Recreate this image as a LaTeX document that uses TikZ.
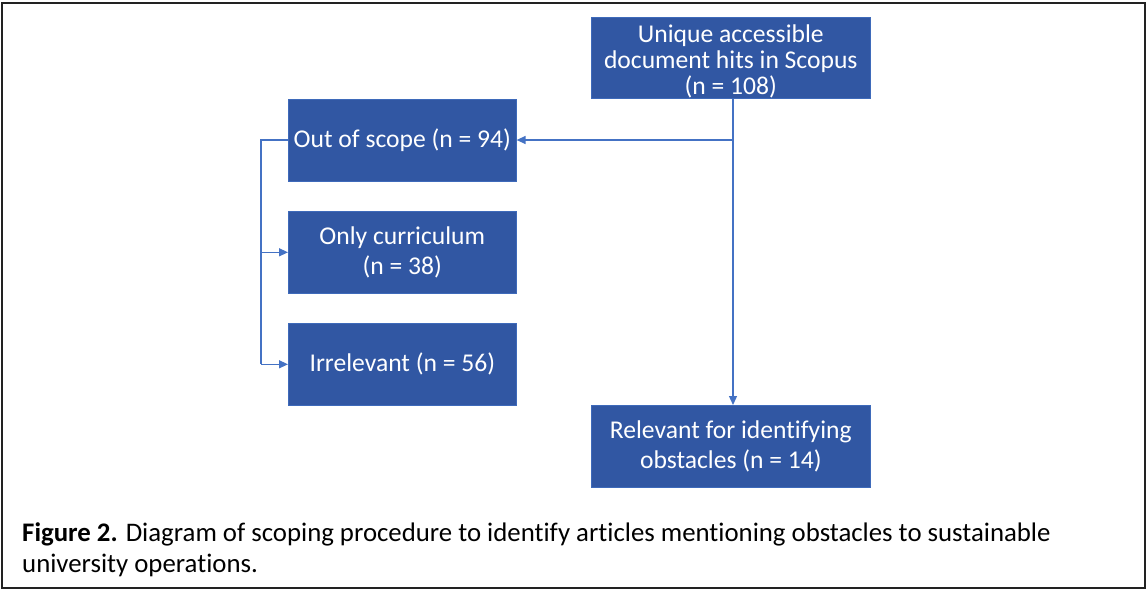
\documentclass[tikz,border=0pt]{standalone}
\usepackage{fontspec}
\setmainfont{Carlito}[Ligatures=NoCommon]
\usetikzlibrary{arrows.meta}
\definecolor{boxblue}{RGB}{49,87,163}
\definecolor{linkblue}{RGB}{68,114,196}
\definecolor{framegray}{RGB}{34,34,34}
\tikzset{
  stagebox/.style={fill=boxblue, draw=linkblue!70!boxblue, line width=0.6pt,
    text=white, align=center, inner sep=0pt, anchor=north west,
    font=\fontsize{25.6}{30}\selectfont},
  link/.style={draw=linkblue, line width=1.3pt, -{Triangle[length=9pt,width=8pt]}},
  plainlink/.style={draw=linkblue, line width=1.3pt}
}
\begin{document}
\begin{tikzpicture}[x=1pt,y=-1pt]
  \useasboundingbox (0,0) rectangle (1147,590);
  % outer frame
  \draw[framegray, line width=2.2pt] (1.6,2.6) rectangle (1145,587.6);

  % stage boxes
  \node[stagebox, minimum width=279pt, minimum height=81pt] (hits) at (591,17) {};
  \node[text=white, align=center, inner sep=0pt, font=\fontsize{25.6}{26}\selectfont]
    (hitstext) at ([yshift=-3.5pt]hits.center)
    {Unique accessible\\document hits in Scopus\\(n = 108)};
  \node[stagebox, minimum width=228pt, minimum height=82pt] (scope) at (288,99)
    {Out of scope (n = 94)};
  \node[stagebox, minimum width=228pt, minimum height=82pt] (curr) at (288,211)
    {Only curriculum\\(n = 38)};
  \node[stagebox, minimum width=228pt, minimum height=82pt] (irr) at (288,323)
    {Irrelevant (n = 56)};
  \node[stagebox, minimum width=279pt, minimum height=82pt] (rel) at (591,405)
    {Relevant for identifying\\obstacles (n = 14)};

  % branch points
  \coordinate (split) at (733,140);
  \coordinate (rail) at (261,140);

  % connectors
  \draw[link] (hits.south -| split) -- (rel.north -| split);
  \draw[link] (split) -- (scope.east |- split);
  \draw[plainlink] (scope.west |- rail) -- (rail) -- (rail |- irr.west);
  \draw[link] (rail |- curr.west) -- (curr.west);
  \draw[link] (rail |- irr.west) -- (irr.west);

  % caption
  \node[anchor=west, font=\fontsize{26.8}{31}\selectfont, align=left, inner sep=0pt]
    (caption) at (22,550)
    {\textbf{Figure 2.} Diagram of scoping procedure to identify articles mentioning obstacles to sustainable\\university operations.};
\end{tikzpicture}
\end{document}
